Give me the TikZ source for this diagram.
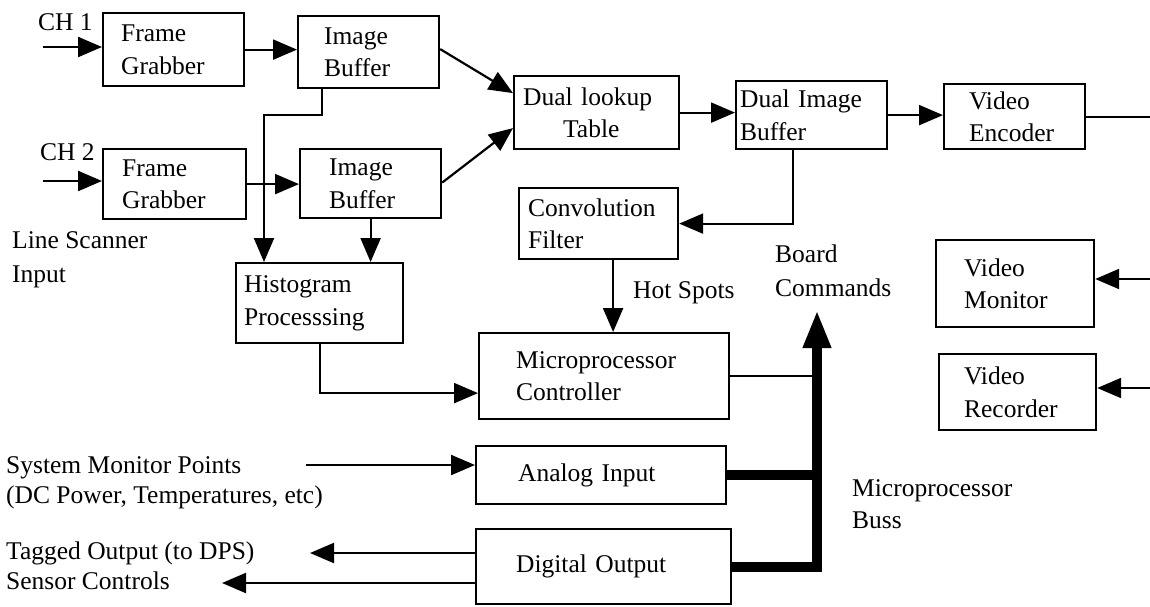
\documentclass[tikz,border=0pt]{standalone}
\usepackage{fontspec}
\setmainfont{Liberation Serif}
\usetikzlibrary{arrows.meta}
\begin{document}
\begin{tikzpicture}[x=1pt,y=-1pt,
  font=\fontsize{25.5}{32.5}\selectfont,
  blk/.style={draw, line width=2.2pt, rectangle, anchor=north west, inner ysep=0pt, align=left},
  bx/.style n args={4}{minimum width=#1pt, minimum height=#2pt, inner xsep=#3pt, text width=#4pt},
  lbl/.style={anchor=base west, inner sep=0pt},
  arr/.style={line width=2.2pt, -{Triangle[length=24pt,width=20pt]}},
  ln/.style={line width=2.2pt},
  busln/.style={line width=10pt},
  busarr/.style={line width=10pt, -{Triangle[length=38pt,width=26pt]}}]
\useasboundingbox (0,0) rectangle (1150,606);

% boxes
\node[blk, bx={141}{73}{18}{105}] (fg1) at (102,12) {Frame\\Grabber};
\node[blk, bx={141}{72}{26}{89}] (ib1) at (297,15) {Image\\Buffer};
\node[blk, bx={143}{70}{19}{105}] (fg2) at (102,148) {Frame\\Grabber};
\node[blk, bx={141}{69}{29}{83}] (ib2) at (299,148) {Image\\Buffer};
\node[blk, bx={165}{73}{9}{147}] (dlt) at (513,75) {Dual lookup\\\hspace*{40pt}Table};
\node[blk, bx={151}{68}{4}{143}] (dib) at (735,80) {Dual Image\\Buffer};
\node[blk, bx={141}{65}{25}{91}] (ve) at (943,83) {Video\\Encoder};
\node[blk, bx={159}{71}{9}{141}] (cf) at (518,187) {Convolution\\Filter};
\node[blk, bx={167}{80}{8}{151}] (hp) at (235,262) {Histogram\\Processsing};
\node[blk, bx={250}{86}{37}{176}] (mc) at (478,332) {Microprocessor\\Controller};
\node[blk, bx={250}{58}{42}{166}] (ai) at (475,445) {Analog Input};
\node[blk, bx={255}{75}{40}{175}] (do) at (475,528) {Digital Output};
\node[blk, bx={158}{87}{28}{102}] (vm) at (935,239) {Video\\Monitor};
\node[blk, bx={157}{76}{25}{107}] (vr) at (938,353) {Video\\Recorder};

% free labels
\node[lbl] (ch1) at (38,30) {CH 1};
\node[lbl] (ch2) at (40,160) {CH 2};
\node[lbl] (ls1) at (12,248) {Line Scanner};
\node[lbl] (ls2) at (12,282) {Input};
\node[lbl] (hs) at (633,298) {Hot Spots};
\node[lbl] (bc1) at (775,262) {Board};
\node[lbl] (bc2) at (775,296) {Commands};
\node[lbl] (mb1) at (852,496) {Microprocessor};
\node[lbl] (mb2) at (852,528) {Buss};
\node[lbl] (sm1) at (6,473) {System Monitor Points};
\node[lbl] (sm2) at (6,503) {(DC Power, Temperatures, etc)};
\node[lbl] (to1) at (6,559) {Tagged Output (to DPS)};
\node[lbl] (to2) at (6,589) {Sensor Controls};

% free ends
\coordinate (ch1in) at (43,47);
\coordinate (ch2in) at (43,181);
\coordinate (j1) at (264,115);
\coordinate (vout) at (1150,0);
\coordinate (vmin) at (1150,279);
\coordinate (vrin) at (1150,388);
\coordinate (bustop) at (817,310);
\coordinate (smp) at (306,465);
\coordinate (tg) at (310,553);
\coordinate (sc) at (222,583);

% connectors
\draw[arr] (ch1in) -- (ch1in -| fg1.west);
\draw[arr] (ch2in) -- (ch2in -| fg2.west);
\draw[arr] (fg1.east) -- (fg1.east -| ib1.west);
\draw[arr] (fg2.east) -- (fg2.east -| ib2.west);
\draw[arr] ([yshift=3pt]ib1.east) -- ([yshift=19.5pt]dlt.west);
\draw[arr] ([yshift=1pt]ib2.east) -- ([yshift=-15.5pt]dlt.west);
\draw[arr] (dlt.east) -- (dlt.east -| dib.west);
\draw[arr] (dib.east) -- (dib.east -| ve.west);
\draw[ln] (ve.east) -- (ve.east -| vout);
\draw[arr] ([xshift=-18.5pt]dib.south) |- (cf.east);
\draw[arr] ([xshift=-46.5pt]ib1.south) |- (j1) -- (j1 |- hp.north);
\draw[arr] (ib2.south) -- (ib2.south |- hp.north);
\draw[arr] (hp.south) |- ([yshift=-17pt]mc.west);
\draw[arr] ([xshift=14.5pt]cf.south) -- ([xshift=14.5pt]cf.south |- mc.north);
\draw[ln] (mc.east) -- (mc.east -| bustop);
\draw[busln] (ai.east) -- (ai.east -| bustop);
\draw[busarr] (do.east) -| (bustop);
\draw[arr] (smp) -- (smp -| ai.west);
\draw[arr] (tg -| do.west) -- (tg);
\draw[arr] (sc -| do.west) -- (sc);
\draw[arr] (vmin) -- (vmin -| vm.east);
\draw[arr] (vrin) -- (vrin -| vr.east);
\end{tikzpicture}
\end{document}
